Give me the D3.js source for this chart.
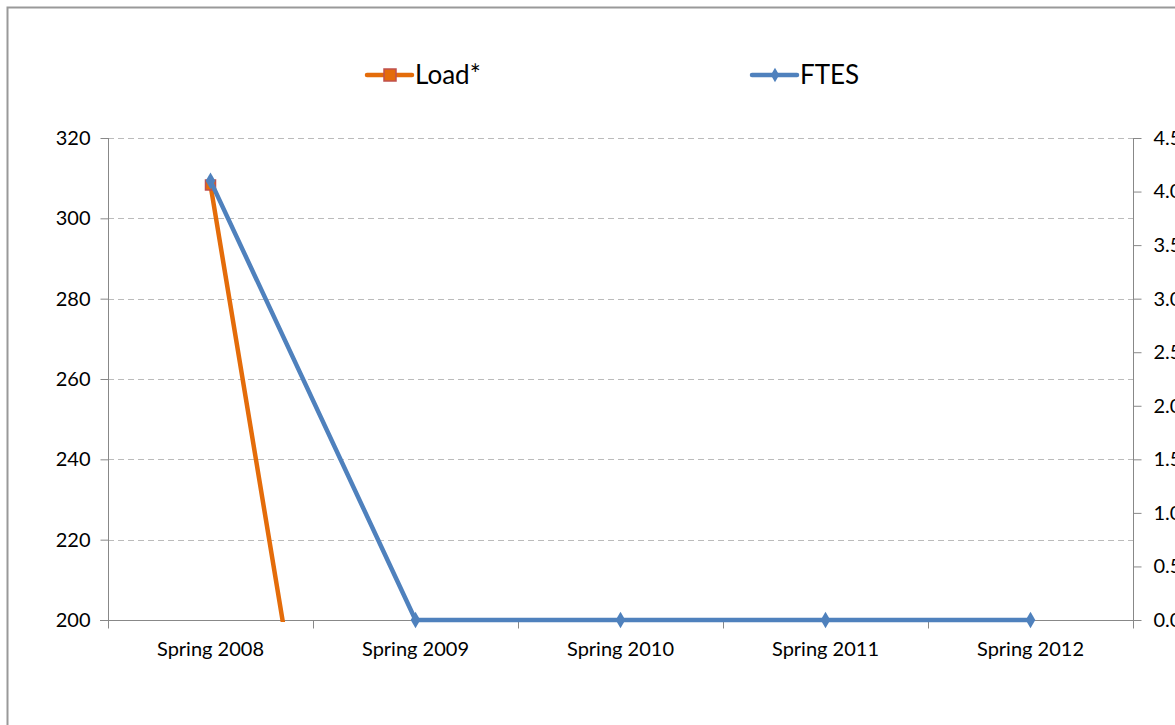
<!DOCTYPE html>
<html>
<head>
<meta charset="utf-8">
<script src="https://cdn.jsdelivr.net/npm/d3@7"></script>
<style>
    body { margin: 0; background: #fff; }
    svg { display: block; }
    .tick text { font-family: Lato, "Open Sans", sans-serif; font-size: 20px; fill: #000; }
</style>
</head>
<body>
<svg id="chart" width="1175" height="725"></svg>
<script>
// Chart data
const categories = ["Spring 2008", "Spring 2009", "Spring 2010", "Spring 2011", "Spring 2012"];
const loadValues = [308.3, 0, 0, 0, 0];
const ftesValues = [4.1, 0, 0, 0, 0];
const leftTicks = [200, 220, 240, 260, 280, 300, 320];
const rightTicks = [0, 0.5, 1, 1.5, 2, 2.5, 3, 3.5, 4, 4.5];

const svg = d3.select("#chart");
const margin = { top: 138, left: 108, right: 1133, bottom: 620 };
const fontFamily = "Lato, 'Open Sans', sans-serif";

// outer chart frame
svg.append("rect")
    .attr("x", 7.5).attr("y", 7.5)
    .attr("width", 1200).attr("height", 800)
    .attr("fill", "none")
    .attr("stroke", "#999")
    .attr("stroke-width", 2);

const x = d3.scaleBand().domain(categories).range([margin.left, margin.right]);
const yLeft = d3.scaleLinear().domain([200, 320]).range([margin.bottom, margin.top]);
const yRight = d3.scaleLinear().domain([0, 4.5]).range([margin.bottom, margin.top]);

// gridlines
svg.append("g")
    .selectAll("line")
    .data(leftTicks.slice(1))
    .enter().append("line")
    .attr("x1", margin.left).attr("x2", margin.right)
    .attr("y1", d => Math.round(yLeft(d)) + 0.5)
    .attr("y2", d => Math.round(yLeft(d)) + 0.5)
    .attr("stroke", "#bbb")
    .attr("stroke-dasharray", "6,4");

const axisColor = "#888";

// left axis
const leftAxis = svg.append("g")
    .attr("transform", `translate(${margin.left + 0.5},0)`)
    .call(d3.axisLeft(yLeft).tickValues(leftTicks).tickSize(8).tickPadding(10));
leftAxis.selectAll("line, path").attr("stroke", axisColor);
leftAxis.select(".domain").attr("d", `M0,${margin.top}V${margin.bottom}`);

// right axis (labels run off the edge like the original)
const rightAxis = svg.append("g")
    .attr("transform", `translate(${margin.right + 0.5},0)`)
    .call(d3.axisRight(yRight).tickValues(rightTicks).tickFormat(d3.format(".1f")).tickSize(8).tickPadding(12));
rightAxis.selectAll("line, path").attr("stroke", axisColor);
rightAxis.select(".domain").attr("d", `M0,${margin.top}V${margin.bottom}`);

// bottom axis with boundary ticks
const bottom = svg.append("g").attr("transform", `translate(0,${margin.bottom + 0.5})`);
bottom.append("line")
    .attr("x1", margin.left - 8).attr("x2", margin.right + 8)
    .attr("stroke", axisColor);
const boundaries = categories.map(c => x(c)).concat([margin.right]);
bottom.selectAll(".bt")
    .data(boundaries)
    .enter().append("line")
    .attr("x1", d => Math.round(d) + 0.5).attr("x2", d => Math.round(d) + 0.5)
    .attr("y1", 0).attr("y2", 8)
    .attr("stroke", axisColor);
bottom.selectAll("text")
    .data(categories)
    .enter().append("text")
    .attr("x", d => x(d) + x.bandwidth() / 2)
    .attr("y", 35)
    .attr("text-anchor", "middle")
    .style("font-family", fontFamily)
    .style("font-size", "20px")
    .text(d => d);

// clip to plot area
svg.append("clipPath").attr("id", "plotClip")
    .append("rect")
    .attr("x", margin.left).attr("y", margin.top - 20)
    .attr("width", margin.right - margin.left)
    .attr("height", margin.bottom - margin.top + 22);

const cx = d => x(d) + x.bandwidth() / 2;
const orange = "#E46C0A";
const blue = "#4F81BD";

const loadLine = d3.line().x((d, i) => cx(categories[i])).y(d => yLeft(d));
const ftesLine = d3.line().x((d, i) => cx(categories[i])).y(d => yRight(d));

svg.append("path")
    .datum(loadValues)
    .attr("clip-path", "url(#plotClip)")
    .attr("d", loadLine)
    .attr("fill", "none")
    .attr("stroke", orange)
    .attr("stroke-width", 4.5)
    .attr("stroke-linejoin", "round");

// load markers (only visible ones)
svg.append("g").attr("clip-path", "url(#plotClip)")
    .selectAll("rect")
    .data(loadValues.filter(v => v >= 200))
    .enter().append("rect")
    .attr("x", (d, i) => cx(categories[i]) - 5)
    .attr("y", d => yLeft(d) - 5)
    .attr("width", 10).attr("height", 10)
    .attr("fill", orange)
    .attr("stroke", "#C0504D")
    .attr("stroke-width", 1.5);

svg.append("path")
    .datum(ftesValues)
    .attr("d", ftesLine)
    .attr("fill", "none")
    .attr("stroke", blue)
    .attr("stroke-width", 4.5)
    .attr("stroke-linejoin", "round");

const diamond = d3.symbol().type(d3.symbolDiamond).size(80);
svg.append("g")
    .selectAll("path")
    .data(ftesValues)
    .enter().append("path")
    .attr("d", diamond)
    .attr("transform", (d, i) => `translate(${cx(categories[i])},${yRight(d)})`)
    .attr("fill", blue);

// legend
const legend = svg.append("g").attr("transform", "translate(0,75)");
const legendItems = [
    { name: "Load*", x: 367, color: orange, marker: "square" },
    { name: "FTES", x: 752, color: blue, marker: "diamond" }
];
legendItems.forEach(item => {
    const g = legend.append("g").attr("transform", `translate(${item.x},0)`);
    g.append("line")
        .attr("x1", 0).attr("x2", 45)
        .attr("stroke", item.color)
        .attr("stroke-width", 4.5)
        .attr("stroke-linecap", "round");
    if (item.marker === "square") {
        g.append("rect")
            .attr("x", 17).attr("y", -6).attr("width", 12).attr("height", 12)
            .attr("fill", orange).attr("stroke", "#C0504D").attr("stroke-width", 1.5);
    } else {
        g.append("path").attr("d", d3.symbol().type(d3.symbolDiamond).size(60))
            .attr("transform", "translate(23,0)").attr("fill", blue);
    }
    g.append("text")
        .attr("x", 48).attr("y", 9)
        .style("font-family", fontFamily)
        .style("font-size", "26px")
        .text(item.name);
});
</script>
</body>
</html>
